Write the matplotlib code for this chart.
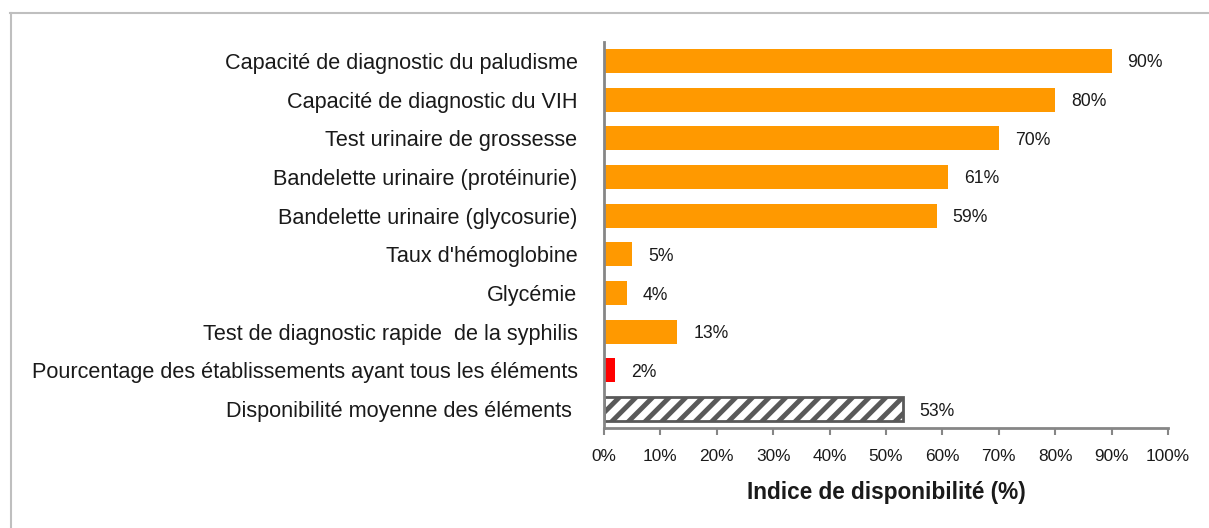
import matplotlib
matplotlib.use("Agg")
import matplotlib.pyplot as plt
from matplotlib.lines import Line2D

categories = [
    "Capacité de diagnostic du paludisme",
    "Capacité de diagnostic du VIH",
    "Test urinaire de grossesse",
    "Bandelette urinaire (protéinurie)",
    "Bandelette urinaire (glycosurie)",
    "Taux d'hémoglobine",
    "Glycémie",
    "Test de diagnostic rapide  de la syphilis",
    "Pourcentage des établissements ayant tous les éléments",
    "Disponibilité moyenne des éléments ",
]
values = [90, 80, 70, 61, 59, 5, 4, 13, 2, 53]
kinds = ["item"] * 8 + ["all", "mean"]
xticks = list(range(0, 101, 10))
xlabel = "Indice de disponibilité (%)"

plt.rcParams['font.family'] = ['Liberation Sans', 'DejaVu Sans']
plt.rcParams['hatch.linewidth'] = 3.5
plt.rcParams['hatch.color'] = '#595959'

fig = plt.figure(figsize=(12.09, 5.28), dpi=100)
ax = fig.add_axes([604/1209, 1-428.4/528, (1168-604)/1209, (428.4-41.6)/528])

ypos = list(range(len(categories)))
for y, v, k in zip(ypos, values, kinds):
    if k == "item":
        ax.barh(y, v, height=0.62, color='#FF9900', edgecolor='none')
    elif k == "all":
        ax.barh(y, v, height=0.62, color='#FF0000', edgecolor='none')
    else:
        ax.barh(y, v, height=0.62, color='white', edgecolor='#595959',
                linewidth=2, hatch='//')
    ax.annotate(f"{v}%", xy=(v, y), xytext=(16, -2), textcoords='offset pixels',
                va='center', ha='left', fontsize=12.7, color='#1a1a1a')

ax.set_ylim(len(categories)-0.5, -0.5)
ax.set_xlim(0, 100)
ax.set_yticks(ypos)
ax.set_yticklabels(categories, fontsize=15.6, color='#1a1a1a')
ax.set_xticks(xticks)
ax.set_xticklabels([f"{t}%" for t in xticks], fontsize=12.4, color='#1a1a1a')
ax.tick_params(axis='y', length=0, pad=19)
ax.tick_params(axis='x', direction='out', length=5, width=1.5, color='#868686', pad=10)
for s in ['top', 'right']:
    ax.spines[s].set_visible(False)
for s in ['left', 'bottom']:
    ax.spines[s].set_color('#868686')
    ax.spines[s].set_linewidth(2)
ax.set_xlabel(xlabel, fontsize=16.3, fontweight='bold', labelpad=12, color='#1a1a1a')

# outer frame (top and left visible)
fig.add_artist(Line2D([10/1209, 1.0], [1-12.5/528, 1-12.5/528], transform=fig.transFigure,
                      color='#BFBFBF', linewidth=1.5))
fig.add_artist(Line2D([10.5/1209, 10.5/1209], [0, 1-12.5/528], transform=fig.transFigure,
                      color='#BFBFBF', linewidth=1.5))

fig.savefig("out.png", dpi=100)
